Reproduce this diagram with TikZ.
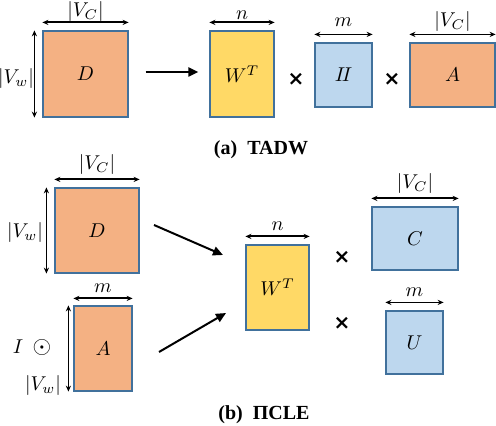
\documentclass[tikz,border=0pt]{standalone}
\usepackage{amsmath, amssymb}
\usepackage{fontspec}
\setmainfont{Liberation Serif}
\newfontfamily\symfont{DejaVu Sans}
\usetikzlibrary{arrows.meta, positioning}
\definecolor{matorange}{RGB}{244,177,131}
\definecolor{matyellow}{RGB}{255,217,102}
\definecolor{matblue}{RGB}{189,215,238}
\definecolor{matline}{RGB}{65,113,156}
\tikzset{
  mat/.style={draw=matline, line width=0.6pt, inner sep=0pt},
  dimarrow/.style={{Stealth[length=3pt,width=2.6pt]}-{Stealth[length=3pt,width=2.6pt]}, line width=#1},
  dimarrow/.default=0.6pt,
  maparrow/.style={-{Triangle[length=5pt,width=4.5pt]}, line width=1pt},
  times/.style={font=\symfont\bfseries}
}

\begin{document}
\begin{tikzpicture}[x=0.5pt, y=-0.5pt]
  \useasboundingbox (0,0) rectangle (496,426);

  % (a) TADW
  \node[mat, fill=matorange, minimum width=42.5pt, minimum height=43pt] (Da) at (85.5,74) {$D$};
  \node[mat, fill=matyellow, minimum width=32pt, minimum height=43pt] (Wa) at (242,74) {$W^T$};
  \node[mat, fill=matblue, minimum width=28.5pt, minimum height=32pt] (Ha) at (343.5,75) {$I\!I$};
  \node[mat, fill=matorange, minimum width=42.5pt, minimum height=32pt] (Aa) at (452.5,75) {$A$};
  \node[times] (xa1) at (296,79) {×};
  \node[times] (xa2) at (392,79) {×};
  \draw[maparrow] ([xshift=8.5pt,yshift=1pt]Da.east) -- ([xshift=-5.5pt,yshift=1pt]Wa.west);

  % dimensions of (a)
  \draw[dimarrow=1pt] ([yshift=4pt]Da.north west) -- ([yshift=4pt]Da.north east);
  \node[inner sep=0.5pt] (vca) at (85.5,12) {$|V_C|$};
  \draw[dimarrow] ([xshift=-4pt]Da.north west) -- ([xshift=-4pt]Da.south west);
  \node (vwa) at (16,79) {$|V_w|$};
  \draw[dimarrow=1pt] ([yshift=4pt]Wa.north west) -- ([yshift=4pt]Wa.north east);
  \node (na) at (242,15) {$n$};
  \draw[dimarrow] ([yshift=4pt]Ha.north west) -- ([yshift=4pt]Ha.north east);
  \node (ma) at (343.5,22) {$m$};
  \draw[dimarrow] ([yshift=4pt]Aa.north west) -- ([yshift=4pt]Aa.north east);
  \node (vca2) at (452.5,22) {$|V_C|$};

  \node[font=\bfseries] (capa) at (261,150) {(a)\enspace TADW};

  % (b) PICLE
  \node[mat, fill=matorange, minimum width=42pt, minimum height=42.5pt] (Db) at (97,230.5) {$D$};
  \node[mat, fill=matorange, minimum width=29pt, minimum height=42.5pt] (Ab) at (103,348.5) {$A$};
  \node[mat, fill=matyellow, minimum width=31.5pt, minimum height=42.5pt] (Wb) at (277.5,287.5) {$W^T$};
  \node[mat, fill=matblue, minimum width=43pt, minimum height=31.5pt] (Cb) at (415,238.5) {$C$};
  \node[mat, fill=matblue, minimum width=28.5pt, minimum height=31.5pt] (Ub) at (414.5,342.5) {$U$};
  \node[times] (xb1) at (342,257) {×};
  \node[times] (xb2) at (342,323) {×};
  \node (Ib) at (18,347) {$I$};
  \node[font=\large] (odot) at (42,347) {$\odot$};
  \coordinate (Dstart) at (154,225);
  \coordinate (Astart) at (159,352);
  \coordinate (Wend1) at (223,255);
  \coordinate (Wend2) at (226,313);
  \draw[maparrow] (Dstart) -- (Wend1);
  \draw[maparrow] (Astart) -- (Wend2);

  % dimensions of (b)
  \draw[dimarrow=1pt] ([yshift=4pt]Db.north west) -- ([yshift=4pt]Db.north east);
  \node (vcb) at (97,165) {$|V_C|$};
  \draw[dimarrow] ([xshift=-4pt]Db.north west) -- ([xshift=-4pt]Db.south west);
  \node (vwb) at (25,233) {$|V_w|$};
  \draw[dimarrow=1pt] ([yshift=3.5pt]Ab.north west) -- ([yshift=3.5pt]Ab.north east);
  \node (mb) at (103,288) {$m$};
  \draw[dimarrow] ([xshift=-2.5pt]Ab.north west) -- ([xshift=-2.5pt]Ab.south west);
  \node (vwb2) at (43,385) {$|V_w|$};
  \draw[dimarrow=1pt] ([yshift=4pt]Wb.north west) -- ([yshift=4pt]Wb.north east);
  \node (nb) at (277.5,226) {$n$};
  \draw[dimarrow=1pt] ([yshift=4pt]Cb.north west) -- ([yshift=4pt]Cb.north east);
  \node (vcb2) at (415,184) {$|V_C|$};
  \draw[dimarrow] ([yshift=4pt]Ub.north west) -- ([yshift=4pt]Ub.north east);
  \node (mb2) at (414.5,292) {$m$};

  \node[font=\bfseries] (capb) at (264,415) {(b)\enspace ΠCLE};
\end{tikzpicture}
\end{document}
